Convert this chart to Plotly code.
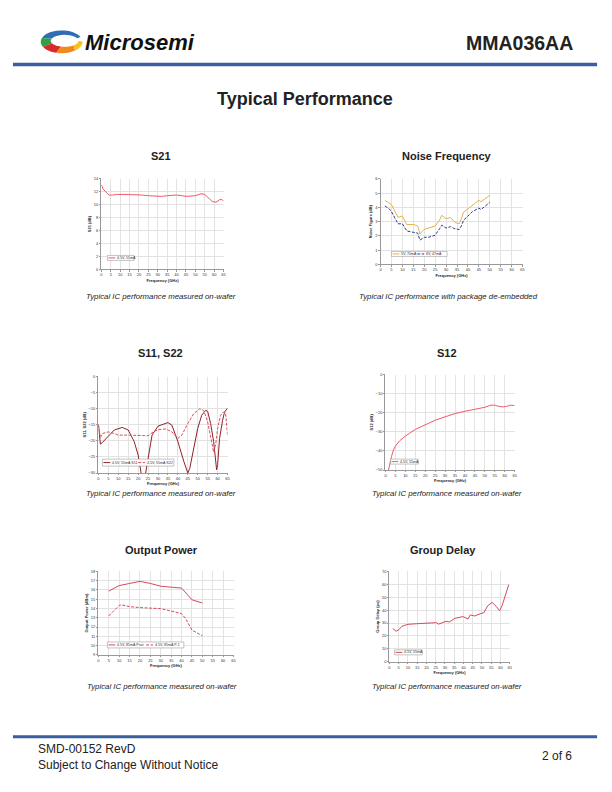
import math
import plotly.graph_objects as go

W, H = 612, 792
OFF = 8  # page body margin around the plot div

# ---- data ----
s21_freq = [0, 1, 2, 4, 6, 8, 12, 16, 20, 22, 25, 30, 32, 35, 40, 43, 45, 50, 52, 53, 55, 57, 59, 61, 62, 63, 64, 65]
s21_db = [13.1, 12.4, 12.1, 11.5, 11.5, 11.6, 11.6, 11.6, 11.6, 11.5, 11.4, 11.3, 11.3, 11.4, 11.5, 11.4, 11.3, 11.4,
          11.6, 11.7, 11.6, 11.1, 10.5, 10.4, 10.6, 10.8, 10.8, 10.6]

nf_freq = [2, 4, 5, 8, 10, 12, 15, 17, 18, 20, 22, 25, 27, 28, 30, 32, 34, 36, 37, 38, 40, 42, 45, 46, 48, 50]
nf_5v = [4.49, 4.33, 4.2, 3.3, 3.4, 2.8, 2.8, 2.7, 2.15, 2.45, 2.55, 2.7, 3.1, 3.45, 3.2, 3.3, 2.95, 2.85, 3.2, 3.67,
         3.9, 4.15, 4.5, 4.4, 4.6, 4.85]
nf_6v = [4.1, 3.9, 3.7, 2.85, 2.85, 2.35, 2.25, 2.2, 1.7, 1.9, 1.9, 2.05, 2.5, 2.75, 2.55, 2.65, 2.5, 2.45, 2.7, 3.1,
         3.4, 3.7, 3.95, 3.85, 4.1, 4.35]

s11_freq = [0, 1, 2, 5, 8, 12, 15, 18, 20, 21.5, 22.5, 23.5, 24, 25, 27, 30, 33, 35, 37, 40, 43, 45, 46, 48, 50, 52,
            54, 55, 56.5, 58, 59.5, 60, 61, 62.5, 63.5, 65]
s11_db = [-14.9, -21, -20.5, -18.4, -16.6, -15.8, -16.6, -20.2, -24.4, -30, -33, -31, -29, -24.9, -18.2, -15.4, -14.6,
          -14.3, -15.1, -20.2, -26.4, -30, -28.5, -22.3, -16.1, -12, -10.5, -10.8, -14.6, -20.2, -29, -27.4, -19.2,
          -13.6, -11, -9.8]
s22_freq = [0, 1, 2, 5, 8, 10, 15, 20, 25, 28, 31, 34, 37, 40, 42, 45, 48, 51, 53, 55, 57, 58, 59, 60, 61.5, 63, 64, 65]
s22_db = [-14.9, -19, -17.7, -17.2, -17.7, -18.2, -18.2, -18.4, -18.4, -17, -16.4, -16.3, -17.2, -19.2, -18.2, -14.6,
          -11.5, -10, -10.5, -14.1, -21.2, -23.5, -21.2, -16.1, -12, -11, -11.2, -18.2]

s12_freq = [1.5, 2, 3, 4, 5, 7, 10, 15, 20, 25, 30, 35, 40, 45, 50, 53, 55, 57, 59, 61, 63, 65]
s12_db = [-50, -47.4, -43, -39.5, -37.5, -34.8, -32.2, -28.7, -26.1, -23.9, -22.1, -20.4, -19.2, -18.1, -17.1, -16,
          -16, -16.6, -16.9, -16.6, -16, -16.2]

pout_freq = [5, 10, 15, 20, 25, 30, 35, 40, 45, 50]
psat_dbm = [15.87, 16.47, 16.7, 16.93, 16.7, 16.4, 16.3, 16.2, 14.94, 14.6]
p1_freq = [5, 10, 11, 15, 20, 25, 30, 35, 40, 42, 45, 50]
p1_dbm = [13.2, 14.33, 14.4, 14.2, 14.1, 14.08, 13.98, 13.73, 13.45, 12.9, 11.67, 11.06]

gd_freq = [1.8, 3.6, 5.1, 6.7, 8.3, 10.5, 16, 21.6, 25.5, 26.4, 28.2, 30.7, 32.5, 35.4, 39.8, 42.5, 43.7, 46.1, 49.6,
           50.9, 53.2, 55.5, 57.7, 59.5, 60.9, 62.2, 63.5, 64.5]
gd_ps = [25.7, 23.7, 24.9, 27.5, 28.3, 29.1, 29.6, 30.3, 30.3, 29.1, 30.3, 31.4, 30.9, 33.7, 35, 33.2, 36.3, 35.5,
         37.5, 37.8, 43.5, 46, 43, 39.6, 43.5, 49.4, 53.7, 59.7]

freq_ticks = list(range(0, 70, 5))

FW, FH = W - OFF, H - OFF


def px(x):
    return (x - OFF) / FW


def py(y):
    return 1 - (y - OFF) / FH


fig = go.Figure()
FONT = "Liberation Sans, Arial"
tick_font = dict(family=FONT, size=4, color="#333333")
lab_font = dict(family=FONT, size=4, color="#222222")

# (axis id, x pixel range, y pixel range, y range, y dtick, y title)
panels = [
    (1, (101, 224), (177, 268), [0, 14], 2, "S21 (dB)"),
    (2, (382, 525), (177, 263), [0, 6], 1, "Noise Figure (dB)"),
    (3, (98, 228), (376, 473), [-30, 0], 5, "S11, S22 (dB)"),
    (4, (387, 517), (374, 470), [-50, 0], 10, "S12 (dB)"),
    (5, (98, 234), (572, 656), [9, 18], 1, "Output Power (dBm)"),
    (6, (391, 512), (572, 663), [0, 70], 10, "Group Delay (ps)"),
]
for i, xr, yr, yrange, ydt, ytitle in panels:
    sx = "" if i == 1 else str(i)
    fig.layout["xaxis" + sx] = dict(
        domain=[px(xr[0]), px(xr[1])], anchor="y" + sx, range=[0, 65], tickvals=freq_ticks,
        showgrid=True, gridcolor="#e3e3e3", gridwidth=0.5, showline=True, linecolor="#999999", linewidth=0.6,
        zeroline=False, ticks="outside", ticklen=1.5, tickcolor="#999999", tickfont=tick_font,
        title=dict(text="<b>Frequency (GHz)</b>", font=lab_font, standoff=2), fixedrange=True)
    fig.layout["yaxis" + sx] = dict(
        domain=[py(yr[1]), py(yr[0])], anchor="x" + sx, range=yrange, dtick=ydt,
        showgrid=True, gridcolor="#e3e3e3", gridwidth=0.5, showline=True, linecolor="#999999", linewidth=0.6,
        zeroline=False, ticks="outside", ticklen=1.5, tickcolor="#999999", tickfont=tick_font,
        title=dict(text="<b>" + ytitle + "</b>", font=lab_font, standoff=2), fixedrange=True)

red = "#ee5a6a"
DASH = "3px,1.5px"
fig.add_trace(go.Scatter(x=s21_freq, y=s21_db, mode="lines", name="4.5V, 55mA", line=dict(color=red, width=1),
                         xaxis="x", yaxis="y"))
fig.add_trace(go.Scatter(x=nf_freq, y=nf_5v, mode="lines", name="5V, 70mA", line=dict(color="#e8b447", width=1),
                         xaxis="x2", yaxis="y2"))
fig.add_trace(go.Scatter(x=nf_freq, y=nf_6v, mode="lines", name="6V, 47mA",
                         line=dict(color="#2e3a8c", width=1, dash=DASH), xaxis="x2", yaxis="y2"))
fig.add_trace(go.Scatter(x=s11_freq, y=s11_db, mode="lines", name="4.5V, 55mA S11",
                         line=dict(color="#8e2228", width=1), xaxis="x3", yaxis="y3"))
fig.add_trace(go.Scatter(x=s22_freq, y=s22_db, mode="lines", name="4.5V, 55mA S22",
                         line=dict(color="#d8505e", width=1, dash=DASH), xaxis="x3", yaxis="y3"))
fig.add_trace(go.Scatter(x=s12_freq, y=s12_db, mode="lines", name="4.5V, 55mA", line=dict(color=red, width=1),
                         xaxis="x4", yaxis="y4"))
fig.add_trace(go.Scatter(x=pout_freq, y=psat_dbm, mode="lines", name="4.5V, 85mA Psat",
                         line=dict(color="#d8485a", width=1), xaxis="x5", yaxis="y5"))
fig.add_trace(go.Scatter(x=p1_freq, y=p1_dbm, mode="lines", name="4.5V, 85mA P-1",
                         line=dict(color="#d8485a", width=1, dash=DASH), xaxis="x5", yaxis="y5"))
fig.add_trace(go.Scatter(x=gd_freq, y=gd_ps, mode="lines", name="4.5V, 55mA", line=dict(color="#d8485a", width=1),
                         xaxis="x6", yaxis="y6"))

ann = []
shapes = []


def text(x, y, s, size, bold=False, italic=False, anchor="center", color="#222222"):
    if bold:
        s = "<b>" + s + "</b>"
    if italic:
        s = "<i>" + s + "</i>"
    ann.append(dict(x=px(x), y=py(y), xref="paper", yref="paper", text=s, showarrow=False, xanchor=anchor,
                    yanchor="middle", borderpad=0, font=dict(family=FONT, size=size, color=color)))


# small boxed legends drawn like the Excel ones: box, then (line start x, trace index)
legends = [
    ((107, 134, 254, 259), [(108, 0)]),
    ((393, 449, 250, 255), [(394, 1), (419, 2)]),
    ((102, 174, 459, 466), [(103, 3), (138, 4)]),
    ((392, 420, 459, 464), [(393, 5)]),
    ((107, 184, 643, 649), [(108, 6), (146, 7)]),
    ((396, 424, 651, 656), [(397, 8)]),
]
for (bx0, bx1, by0, by1), entries in legends:
    shapes.append(dict(type="rect", xref="paper", yref="paper", x0=px(bx0), x1=px(bx1), y0=py(by1), y1=py(by0),
                       fillcolor="white", line=dict(color="#888888", width=0.5)))
    ym = (by0 + by1) / 2
    for lx, ti in entries:
        tr = fig.data[ti]
        shapes.append(dict(type="line", xref="paper", yref="paper", x0=px(lx), x1=px(lx + 7), y0=py(ym), y1=py(ym),
                           line=dict(color=tr.line.color, width=1, dash=tr.line.dash or "solid")))
        text(lx + 8, ym, tr.name, 3.6, anchor="left", color="#333333")

text(306, 97, "Typical Performance", 18, bold=True)
for x, y, s in [(161, 154, "S21"), (449, 154, "Noise Frequency"), (161, 352, "S11, S22"), (449, 352, "S12"),
                (162, 550, "Output Power"), (445, 550, "Group Delay")]:
    text(x, y, s, 11, bold=True)
for x, y, s in [(161, 295, "Typical IC performance measured on-wafer"),
                (450, 295, "Typical IC performance with package de-embedded"),
                (161, 494, "Typical IC performance measured on-wafer"),
                (449, 494, "Typical IC performance measured on-wafer"),
                (162, 688, "Typical IC performance measured on-wafer"),
                (449, 688, "Typical IC performance measured on-wafer")]:
    text(x, y, s, 7.8, italic=True)

text(84, 40, "Microsemi", 22, bold=True, italic=True, anchor="left", color="#111111")
text(577, 40, "MMA036AA", 19.5, bold=True, anchor="right", color="#222222")
text(36, 751, "SMD-00152 RevD", 12, anchor="left")
text(36, 767, "Subject to Change Without Notice", 12, anchor="left")
text(576, 758, "2 of 6", 12, anchor="right")

shapes += [
    dict(type="rect", xref="paper", yref="paper", x0=px(12), x1=px(600), y0=py(63.5), y1=py(60),
         fillcolor="#3a5f9f", line=dict(width=0)),
    dict(type="rect", xref="paper", yref="paper", x0=px(12), x1=px(600), y0=py(740), y1=py(737),
         fillcolor="#3a5f9f", line=dict(width=0)),
]

# logo swirl: coloured ring segments
cx, cy = 61, 39
segments = [(25, 160, "#2f6db5"), (160, 205, "#2fa04a"), (205, 255, "#d92b2b"), (255, 310, "#f08a1d"),
            (310, 360, "#f6c21c")]
for a0, a1, col in segments:
    pts = []
    for k in range(13):
        a = math.radians(a0 + (a1 - a0) * k / 12)
        pts.append((cx + 21 * math.cos(a), cy - 11.5 * math.sin(a)))
    for k in range(12, -1, -1):
        a = math.radians(a0 + (a1 - a0) * k / 12)
        pts.append((cx + 3 + 14 * math.cos(a), cy - 1 - 6 * math.sin(a)))
    path = "M " + " L ".join(f"{px(x):.5f},{py(y):.5f}" for x, y in pts) + " Z"
    shapes.append(dict(type="path", xref="paper", yref="paper", path=path, fillcolor=col, line=dict(width=0)))

fig.update_layout(annotations=ann, shapes=shapes, width=FW, height=FH, margin=dict(l=0, r=0, t=0, b=0),
                  paper_bgcolor="white", plot_bgcolor="white", showlegend=False)

fig.write_html("out.html")
